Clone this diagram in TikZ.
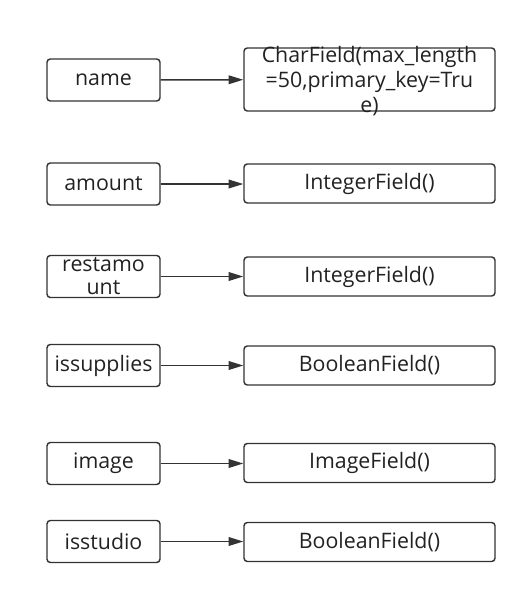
\documentclass[tikz,border=0pt]{standalone}
\usepackage{fontspec}
\setmainfont{Open Sans}
\usepackage{xcolor}
\usetikzlibrary{arrows.meta,positioning}
\definecolor{lineGrey}{RGB}{51,51,51}
\definecolor{textGrey}{RGB}{34,34,34}
\tikzset{
  fieldbox/.style={rounded corners=2.5pt,draw=lineGrey,line width=1.1pt,minimum width=84.75pt,minimum height=31.5pt,inner sep=1pt,text=textGrey,align=center,font=\fontsize{16}{17.25}\selectfont},
  typebox/.style={fieldbox,minimum width=188.25pt,minimum height=29.25pt},
  maps/.style={draw=lineGrey,line width=1.1pt,-{Triangle[length=11pt,width=6.5pt]}}
}
\begin{document}
\begin{tikzpicture}[x=0.75pt,y=-0.75pt]
\useasboundingbox (0,0) rectangle (527,594);
% field names
\node[fieldbox] (name) at (103.5,80) {name};
\node[fieldbox] (amount) at (103.5,184) {amount};
\node[fieldbox,inner sep=0pt] (restamount) at (103.5,276.5) {restamo\\unt};
\node[fieldbox] (issupplies) at (103.5,365.5) {issupplies};
\node[fieldbox] (image) at (103.5,463.5) {image};
\node[fieldbox] (isstudio) at (103.5,541.5) {isstudio};
% field types
\node[typebox,minimum height=47.25pt] (nameType) at (369.5,79.5) {};
\node[text=textGrey,align=center,inner sep=0pt,font=\fontsize{16}{18.75}\selectfont] (nameTypeText) at (369.5,81) {CharField(max\_length\\=50,primary\_key=Tru\\e)};
\node[typebox] (amountType) at (369.5,183.5) {IntegerField()};
\node[typebox] (restamountType) at (369.5,276.5) {IntegerField()};
\node[typebox] (issuppliesType) at (369.5,365.5) {BooleanField()};
\node[typebox] (imageType) at (369.5,463) {ImageField()};
\node[typebox] (isstudioType) at (369.5,542) {BooleanField()};
% arrows
\draw[maps] (name) -- (nameType);
\draw[maps] (amount) -- (amount -| amountType.west);
\draw[maps] (restamount) -- (restamountType);
\draw[maps] (issupplies) -- (issuppliesType);
\draw[maps] (image) -- (image -| imageType.west);
\draw[maps] (isstudio) -- (isstudio -| isstudioType.west);
\end{tikzpicture}
\end{document}
